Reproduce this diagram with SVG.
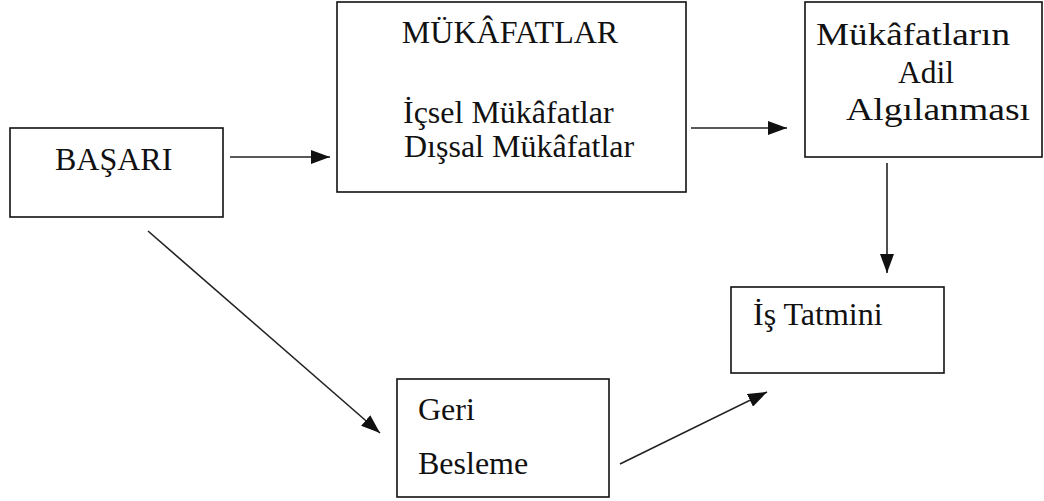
<svg xmlns="http://www.w3.org/2000/svg" width="1044" height="501" viewBox="0 0 1044 501">
  <style>
    .box { fill: #fff; stroke: #111; stroke-width: 1.6; }
    .lbl { font-family: "Liberation Serif", "DejaVu Serif", serif; font-size: 32px; fill: #111; }
    .mid { text-anchor: middle; }
    .edge { stroke: #222; stroke-width: 1.6; fill: none; marker-end: url(#arrow); }
  </style>
  <defs>
    <marker id="arrow" markerUnits="userSpaceOnUse" markerWidth="19" markerHeight="14" refX="19" refY="7" orient="auto">
      <path d="M0,0 L19,7 L0,14 Z" fill="#111"/>
    </marker>
  </defs>
  <rect width="1044" height="501" fill="#fff"/>

  <!-- performance -->
  <g id="basari">
    <rect class="box" x="10" y="128" width="213" height="89"/>
    <text class="lbl" x="55" y="170">BAŞARI</text>
  </g>

  <!-- rewards: intrinsic and extrinsic -->
  <g id="mukafatlar">
    <rect class="box" x="337" y="2" width="349" height="190"/>
    <text class="lbl mid" x="510" y="43">MÜKÂFATLAR</text>
    <text class="lbl" x="403" y="123">İçsel Mükâfatlar</text>
    <text class="lbl" x="404" y="157">Dışsal Mükâfatlar</text>
  </g>

  <!-- perceived fairness of rewards (wider glyphs) -->
  <g id="adil-algilanma">
    <rect class="box" x="805" y="2" width="237" height="155"/>
    <text class="lbl" x="816" y="45" textLength="194" lengthAdjust="spacingAndGlyphs">Mükâfatların</text>
    <text class="lbl" x="898" y="83" textLength="56" lengthAdjust="spacingAndGlyphs">Adil</text>
    <text class="lbl" x="846" y="120" textLength="184" lengthAdjust="spacingAndGlyphs">Algılanması</text>
  </g>

  <!-- job satisfaction -->
  <g id="is-tatmini">
    <rect class="box" x="731" y="287" width="213" height="86"/>
    <text class="lbl" x="753" y="325">İş Tatmini</text>
  </g>

  <!-- feedback -->
  <g id="geri-besleme">
    <rect class="box" x="397" y="379" width="212" height="118"/>
    <text class="lbl" x="418" y="420">Geri</text>
    <text class="lbl" x="418" y="474">Besleme</text>
  </g>

  <g id="connectors">
    <line class="edge" x1="230" y1="157" x2="330" y2="157"/>
    <line class="edge" x1="691" y1="128" x2="787" y2="128"/>
    <line class="edge" x1="887" y1="163" x2="887" y2="273"/>
    <line class="edge" x1="148" y1="231" x2="380" y2="433"/>
    <line class="edge" x1="620" y1="464" x2="767" y2="392"/>
  </g>
</svg>
